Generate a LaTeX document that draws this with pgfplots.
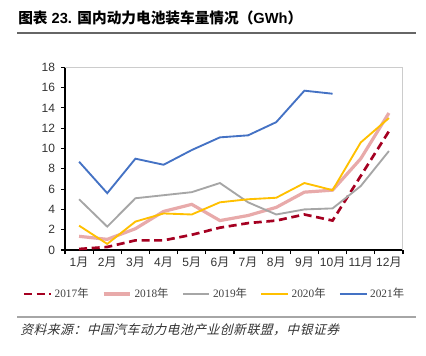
\documentclass[border=0pt]{standalone}
\usepackage{fontspec}
\setmainfont{Liberation Sans}
\newfontfamily\cjk{Noto Sans CJK SC}
\newfontfamily\cjkit[FakeSlant=0.25]{Noto Sans CJK SC}
\newfontfamily\serif{Liberation Serif}
\usepackage{pgfplots}
\pgfplotsset{compat=1.18}
\usepackage{pgfplotstable}
\definecolor{c17}{HTML}{A50021}
\definecolor{c18}{HTML}{E8AAAA}
\definecolor{c19}{HTML}{A6A6A6}
\definecolor{c20}{HTML}{FFC000}
\definecolor{c21}{HTML}{4472C4}
\newcommand\yue{{\cjk 月}}
\newcommand\nian{{\cjk 年}}
\pgfplotstableread{
month y17 y18 y19 y20 y21
1 0.1 1.35 5.0 2.4 8.7
2 0.3 1.05 2.3 0.6 5.6
3 0.95 2.1 5.1 2.8 9.0
4 0.95 3.8 5.4 3.6 8.4
5 1.5 4.5 5.7 3.5 9.85
6 2.2 2.9 6.6 4.7 11.1
7 2.65 3.4 4.7 5.0 11.3
8 2.9 4.2 3.5 5.15 12.6
9 3.5 5.7 4.0 6.6 15.7
10 2.9 5.9 4.1 5.9 15.4
11 7.3 9.0 6.3 10.6 nan
12 11.7 13.5 9.75 13.0 nan
}\data
\begin{document}
\begin{tikzpicture}
\useasboundingbox (0,0) rectangle (319.5pt,-266.25pt);
\node[anchor=west,inner sep=0pt] at (13.5pt,-13.5pt) {\fontsize{11}{13}\selectfont\bfseries{\cjk 图表} 23. {\cjk 国内动力电池装车量情况（}GWh{\cjk ）}};
\draw[line width=1.3pt, gray!80!black] (12.75pt,-24.75pt) -- (312pt,-24.75pt);
\begin{axis}[
  at={(48.75pt,-187.5pt)}, anchor=south west,
  scale only axis, width=253.5pt, height=137pt,
  xmin=0.5, xmax=12.5, ymin=0, ymax=18,
  ytick={0,2,...,18},
  xtick={0.5,1.5,2.5,3.5,4.5,5.5,6.5,7.5,8.5,9.5,10.5,11.5,12.5},
  xticklabels={,,,,,,,,,,,,,},
  extra x ticks={1,2,3,4,5,6,7,8,9,10,11,12},
  extra x tick labels={1\yue,2\yue,3\yue,4\yue,5\yue,6\yue,7\yue,8\yue,9\yue,10\yue,11\yue,12\yue},
  extra x tick style={major tick length=0pt, xticklabel style={yshift=-1.5pt}},
  axis x line*=bottom, axis y line*=left,
  axis line style={black,-, line width=0.8pt},
  tick style={black, line width=0.8pt},
  tick align=outside, major tick length=3pt,
  /pgf/number format/assume math mode=true,
  tick label style={font=\fontsize{9}{10}\selectfont, text=black!80},
  yticklabel style={xshift=-1pt},
  legend columns=5,
  legend style={at={(0.443,-0.241)}, anchor=center, draw=none, fill=none,
    font=\fontsize{8.5}{10}\selectfont\serif, text=black!75,
    /tikz/every even column/.style={column sep=8pt}},
  legend image code/.code={\draw[#1] (0pt,0pt) -- (20pt,0pt);},
]
\addplot[c17, line width=2pt, dash pattern=on 6pt off 3.5pt] table[x=month,y=y17]{\data};
\addlegendentry{2017\nian}
\addplot[c18, line width=2.4pt] table[x=month,y=y18]{\data};
\addlegendentry{2018\nian}
\addplot[c19, line width=1.4pt] table[x=month,y=y19]{\data};
\addlegendentry{2019\nian}
\addplot[c20, line width=1.4pt] table[x=month,y=y20]{\data};
\addlegendentry{2020\nian}
\addplot[c21, line width=1.4pt] table[x=month,y=y21]{\data};
\addlegendentry{2021\nian}
\draw[gray!40, line width=0.8pt] (rel axis cs:0,1) -- (rel axis cs:1,1) -- (rel axis cs:1,0);
\end{axis}
\draw[line width=1.3pt, gray!70] (12.75pt,-237.75pt) -- (312pt,-237.75pt);
\node[anchor=west,inner sep=0pt] at (15pt,-247.5pt) {\fontsize{9.6}{11}\selectfont\cjkit\addfontfeature{LetterSpace=4}\color{black!80} 资料来源：中国汽车动力电池产业创新联盟，中银证券};
\end{tikzpicture}
\end{document}
